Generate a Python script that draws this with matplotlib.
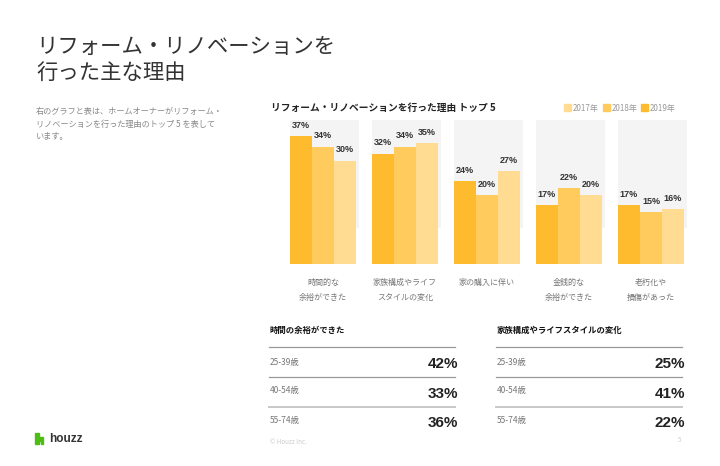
import matplotlib
matplotlib.use("Agg")
import matplotlib.pyplot as plt
from matplotlib.patches import Rectangle, Polygon
from matplotlib.lines import Line2D
import numpy as np

plt.rcParams['font.family'] = ['Noto Sans CJK JP', 'DejaVu Sans']
NUM = ["Liberation Sans", "DejaVu Sans"]

# データ
categories = ["時間的な\n余裕ができた", "家族構成やライフ\nスタイルの変化", "家の購入に伴い",
              "金銭的な\n余裕ができた", "老朽化や\n損傷があった"]
v2019 = [37, 32, 24, 17, 17]
v2018 = [34, 34, 20, 22, 15]
v2017 = [30, 35, 27, 20, 16]
years = ["2017年", "2018年", "2019年"]

t1_title = "時間の余裕ができた"
t2_title = "家族構成やライフスタイルの変化"
ages = ["25-39歳", "40-54歳", "55-74歳"]
t1_vals = ["42%", "33%", "36%"]
t2_vals = ["25%", "41%", "22%"]

c19 = "#FDBB2D"
c18 = "#FECB5C"
c17 = "#FFDC92"

W, H = 720, 466
fig = plt.figure(figsize=(7.2, 4.66), dpi=100)
fig.patch.set_facecolor("white")

def px(x, y):
    return x / W, 1 - y / H

def txt(x, y, s, **kw):
    fx, fy = px(x, y)
    fig.text(fx, fy, s, **kw)

def hline(x0, x1, y, color="#999999", lw=0.8):
    a, b = px(x0, y)
    c, d = px(x1, y)
    fig.add_artist(Line2D([a, c], [b, d], color=color, lw=lw, transform=fig.transFigure))

# タイトル
txt(36, 47, "リフォーム・リノベーションを", fontsize=15.4, color="#333333", va="center")
txt(36, 73, "行った主な理由", fontsize=15.4, color="#333333", va="center")

desc = ["右のグラフと表は、ホームオーナーがリフォーム・",
        "リノベーションを行った理由のトップ 5 を表して",
        "います。"]
for i, line in enumerate(desc):
    txt(36, 111 + i * 13, line, fontsize=5.9, color="#888888", va="center")

# グラフ
txt(271, 108, "リフォーム・リノベーションを行った理由 トップ 5", fontsize=7,
    fontweight="bold", color="#222222", va="center")
leg_x = [564, 603, 641]
for x, yr, c in zip(leg_x, years, [c17, c18, c19]):
    fx, fy = px(x, 111)
    fig.add_artist(Rectangle((fx, fy), 7 / W, 7 / H, color=c, transform=fig.transFigure))
    txt(x + 9, 108, yr, fontsize=5.8, color="#999999", va="center")

ax = fig.add_axes([285 / W, (H - 264) / H, (692 - 285) / W, (264 - 115) / H])
ax.set_xlim(-0.463, 4.5)
ax.set_ylim(0, 43.2)
ax.axis("off")

bw = 0.268
x = np.arange(len(categories))
for i in x:
    ax.add_patch(Rectangle((i - 0.402, 10.4), 0.841, 31.3, color="#F4F4F4", zorder=0, lw=0))
for off, vals, c in zip([-bw, 0, bw], [v2019, v2018, v2017], [c19, c18, c17]):
    bars = ax.bar(x + off, vals, width=bw, color=c, zorder=2, linewidth=0)
    for b, v in zip(bars, vals):
        ax.annotate(f"{v}%", (b.get_x() + b.get_width() / 2, v), xytext=(0, 4.5),
                    textcoords="offset points", ha="center", va="bottom",
                    fontsize=6.5, fontweight="bold", color="#333333", family=NUM)

for i, cat in enumerate(categories):
    cx = 323 + 82 * i
    txt(cx, 278, cat, fontsize=5.8, color="#777777", ha="center", va="top",
        linespacing=1.9)

# 表
for tx, tr, title, vals in [(270, 458, t1_title, t1_vals), (497, 685, t2_title, t2_vals)]:
    txt(tx, 330, title, fontsize=6, fontweight="bold", color="#111111", va="center")
    for k, ly in enumerate([347, 377, 407]):
        hline(tx - 1, tr - 3, ly, color="#999999" if k < 2 else "#c8c8c8", lw=0.9 if k < 2 else 1.4)
    for k, (a, v) in enumerate(zip(ages, vals)):
        txt(tx, 362 + 29 * k, a, fontsize=6, color="#777777", va="center")
        txt(tr, 364 + 29.5 * k, v, fontsize=11, fontweight="bold", color="#222222",
            ha="right", va="center", family=NUM)

# フッター
txt(270, 442, "© Houzz Inc.", fontsize=4.5, color="#cccccc", va="center")
txt(678, 440, "5", fontsize=4.5, color="#cccccc", va="center")

logo = [(35, 444), (35, 433), (38.5, 433), (38.5, 437), (43, 437), (43, 444),
        (40.5, 444), (40.5, 440.5), (38.5, 440.5), (38.5, 444)]
fig.add_artist(Polygon([px(a, b) for a, b in logo], closed=True, color="#4DBC15",
                       transform=fig.transFigure))
txt(49, 439, "houzz", fontsize=8.5, fontweight="bold", color="#333333", va="center",
    family=NUM)

fig.savefig("out.png", dpi=100, facecolor="white")
